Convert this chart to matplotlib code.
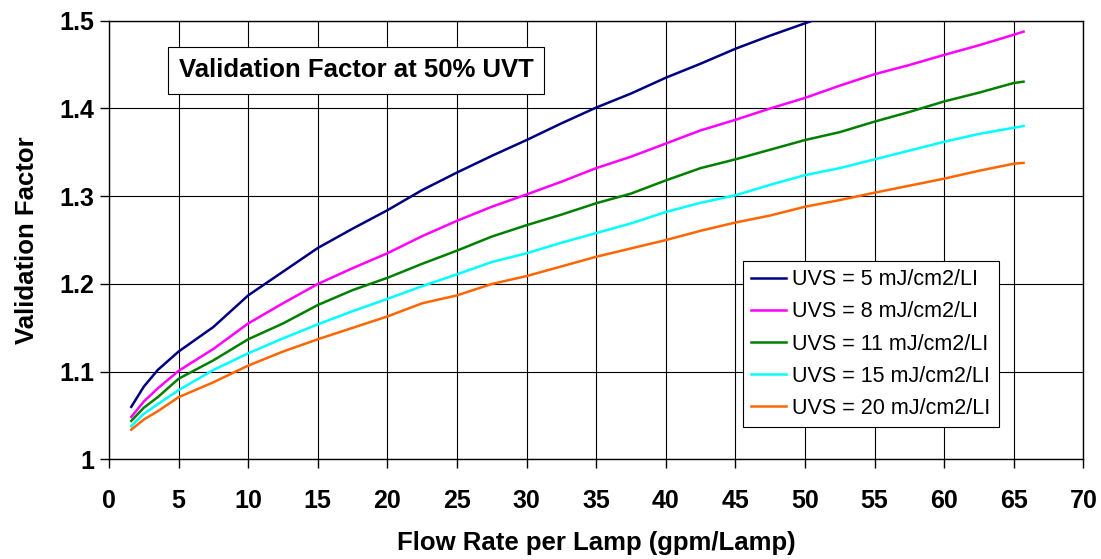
"""
Validation factor vs flow rate per lamp at 50% UVT, one curve per UVS level.
"""

import matplotlib

matplotlib.use("Agg")
import matplotlib.pyplot as plt

plt.rcParams["font.family"] = ["Liberation Sans", "DejaVu Sans"]

# -- Data ---------------------------------------------------------------------
FLOW = [1.6, 2.5, 3.5, 5, 7.5, 10, 12.5, 15, 17.5, 20, 22.5, 25, 27.5, 30,
        32.5, 35, 37.5, 40, 42.5, 45, 47.5, 50, 52.5, 55, 57.5, 60, 62.5,
        65, 65.7]

VF_5 = [1.060, 1.083, 1.102, 1.123, 1.151, 1.187, 1.214, 1.241, 1.263,
        1.284, 1.307, 1.327, 1.346, 1.364, 1.383, 1.401, 1.417, 1.435,
        1.451, 1.468, 1.483, 1.497, 1.511]
VF_8 = [1.0485, 1.066, 1.081, 1.101, 1.126, 1.155, 1.178, 1.200, 1.218,
        1.235, 1.2545, 1.272, 1.288, 1.302, 1.3165, 1.332, 1.345, 1.360,
        1.375, 1.387, 1.400, 1.412, 1.426, 1.439, 1.4495, 1.461, 1.472,
        1.484, 1.4875]
VF_11 = [1.044, 1.059, 1.071, 1.092, 1.113, 1.137, 1.155, 1.176, 1.193,
         1.207, 1.223, 1.238, 1.254, 1.267, 1.279, 1.292, 1.303, 1.318,
         1.332, 1.342, 1.353, 1.364, 1.373, 1.385, 1.396, 1.408, 1.418,
         1.429, 1.4305]
VF_15 = [1.038, 1.052, 1.063, 1.079, 1.102, 1.121, 1.138, 1.154, 1.169,
         1.183, 1.1975, 1.211, 1.225, 1.235, 1.247, 1.258, 1.269, 1.282,
         1.2925, 1.301, 1.313, 1.324, 1.332, 1.342, 1.352, 1.362, 1.371,
         1.378, 1.380]
VF_20 = [1.034, 1.0455, 1.055, 1.071, 1.088, 1.107, 1.123, 1.137, 1.150,
         1.163, 1.178, 1.187, 1.200, 1.209, 1.220, 1.231, 1.2405, 1.250,
         1.2606, 1.270, 1.278, 1.288, 1.2956, 1.304, 1.312, 1.320, 1.329,
         1.337, 1.338]

SERIES = [
    ("UVS = 5 mJ/cm2/LI", VF_5, "#000080"),
    ("UVS = 8 mJ/cm2/LI", VF_8, "#FF00FF"),
    ("UVS = 11 mJ/cm2/LI", VF_11, "#008000"),
    ("UVS = 15 mJ/cm2/LI", VF_15, "#00FFFF"),
    ("UVS = 20 mJ/cm2/LI", VF_20, "#FF6600"),
]

X_TICKS = list(range(0, 71, 5))
Y_TICKS = [1.0, 1.1, 1.2, 1.3, 1.4, 1.5]
Y_TICK_LABELS = ["1", "1.1", "1.2", "1.3", "1.4", "1.5"]


# -- Figure --------------------------------------------------------------------
fig = plt.figure(figsize=(11.01, 5.59), dpi=100)
ax = fig.add_axes([0.099, 0.178, 0.885, 0.785])

for label, vals, color in SERIES:
    ax.plot(FLOW[:len(vals)], vals, color=color, lw=1.8, label=label, zorder=3)

ax.set_xlim(0, 70)
ax.set_ylim(1.0, 1.5)
ax.set_xticks(X_TICKS)
ax.set_yticks(Y_TICKS)
ax.set_yticklabels(Y_TICK_LABELS)
ax.grid(True, color="black", lw=0.8, zorder=0)
ax.tick_params(direction="out", length=6.5, width=1, labelsize=18)
ax.tick_params(axis="x", pad=15)
ax.tick_params(axis="y", pad=4)
for lbl in ax.get_xticklabels() + ax.get_yticklabels():
    lbl.set_fontweight("bold")
for sp in ax.spines.values():
    sp.set_linewidth(1.0)
    sp.set_color("black")

ax.set_xlabel("Flow Rate per Lamp (gpm/Lamp)", fontsize=18.5, fontweight="bold", labelpad=13)
ax.set_ylabel("Validation Factor", fontsize=18.5, fontweight="bold", labelpad=15)

ax.text(0.2535, 0.8865, "Validation Factor at 50% UVT", transform=ax.transAxes,
        ha="center", va="center", fontsize=18.5, fontweight="bold", zorder=5,
        bbox=dict(boxstyle="square,pad=0.43", fc="white", ec="black", lw=0.8))

leg = ax.legend(loc="lower left", bbox_to_anchor=(0.6507, 0.0736), borderaxespad=0,
                fontsize=15.5, fancybox=False, framealpha=1, edgecolor="black",
                handlelength=1.6, handletextpad=0.3, labelspacing=0.52,
                borderpad=0.38)
leg.get_frame().set_linewidth(0.8)
leg.set_zorder(6)

fig.savefig("out.png", dpi=100)
